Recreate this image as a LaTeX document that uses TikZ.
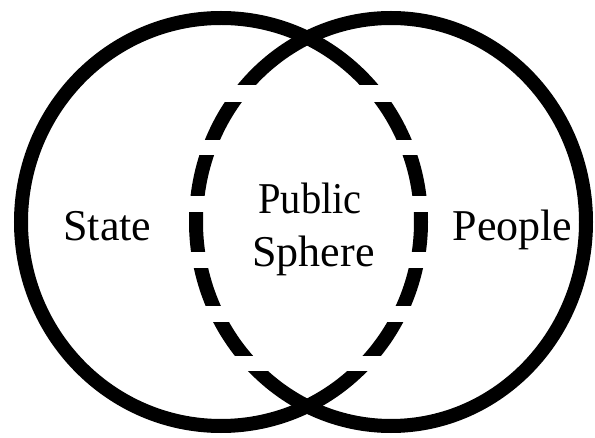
\documentclass[tikz,border=0pt]{standalone}
\usepackage{fontspec}
\setmainfont{Liberation Serif}
\newfontfamily\tnrfont{Liberation Serif}
\begin{document}
\begin{tikzpicture}[x=1pt,y=-1pt,
  ring/.style={draw=black,line width=14pt},
  gapband/.style={fill=white,draw=none},
  lbl/.style={anchor=base,inner sep=0pt,font=\tnrfont\fontsize{44}{53}\selectfont}]
\fill[white] (0,0) rectangle (595,438);
\useasboundingbox (0,0) rectangle (595,438);
% circles
\coordinate (cL) at (221,222);
\coordinate (cR) at (391,222);
\draw[ring] (cL) ellipse [x radius=200, y radius=204];
\draw[ring] (cR) ellipse [x radius=195, y radius=204];
% white bands that break the arcs inside the lens into dashes
\foreach \a/\b in {85/102, 140/155, 196/212, 252/268, 306/322, 356/371}
  \fill[gapband] (175,\a) rectangle (445,\b);
% labels
\node[lbl] (state) at (107.5,240.7) {State};
\node[lbl] (people) at (512.5,240.7) {People};
\node[lbl,xscale=0.92] (public) at (310,213.3) {Public};
\node[lbl] (sphere) at (313.5,266.7) {Sphere};
\end{tikzpicture}
\end{document}
